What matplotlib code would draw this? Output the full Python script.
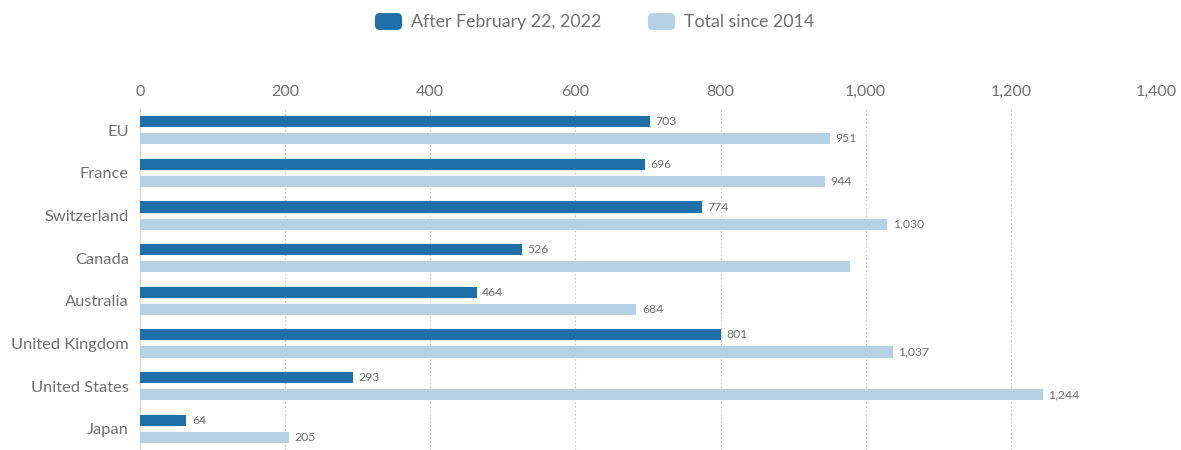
import matplotlib
matplotlib.use("Agg")
import matplotlib.pyplot as plt
import numpy as np
from matplotlib.ticker import FuncFormatter
from matplotlib.lines import Line2D
from matplotlib.patches import FancyBboxPatch
from matplotlib.path import Path

countries = ["EU", "France", "Switzerland", "Canada", "Australia",
             "United Kingdom", "United States", "Japan"]
after_feb_2022 = [703, 696, 774, 526, 464, 801, 293, 64]
total_since_2014 = [951, 944, 1030, 978, 684, 1037, 1244, 205]
# Canada's total bar carries no value label
total_labelled = [True, True, True, False, True, True, True, True]

dark = "#1f6fa8"
light = "#b4d2e4"
text_col = "#707070"

plt.rcParams["font.family"] = ["Lato", "DejaVu Sans"]

fig = plt.figure(figsize=(11.81, 4.5), dpi=100)
ax = fig.add_axes([140 / 1181, 0.0, (1156 - 140) / 1181, 1 - 109 / 450])

y = np.arange(len(countries))
off = 0.2
h = 0.26
ax.barh(y - off, after_feb_2022, height=h, color=dark, zorder=3)
ax.barh(y + off, total_since_2014, height=h, color=light, zorder=3)

for yi, v in zip(y, after_feb_2022):
    ax.annotate(f"{v:,}", (v, yi - off), xytext=(4, 0), textcoords="offset points",
                va="center", ha="left", fontsize=8.8, color=text_col)
for yi, v, lab in zip(y, total_since_2014, total_labelled):
    if lab:
        ax.annotate(f"{v:,}", (v, yi + off), xytext=(4, 0), textcoords="offset points",
                    va="center", ha="left", fontsize=8.8, color=text_col)

ax.set_xlim(0, 1400)
ax.set_ylim(len(countries) - 0.5, -0.5)
ax.set_xticks(np.arange(0, 1401, 200))
ax.xaxis.set_major_formatter(FuncFormatter(lambda v, p: f"{int(v):,}"))
ax.xaxis.tick_top()
ax.tick_params(axis="x", length=0, pad=7, labelsize=11.5, labelcolor=text_col)
ax.set_yticks(y)
ax.set_yticklabels(countries)
ax.tick_params(axis="y", length=0, pad=8, labelsize=11.8, labelcolor=text_col)

ax.grid(axis="x", color="#c8c8c8", linestyle=(0, (1.5, 2)), linewidth=0.8, zorder=0)
ax.grid(axis="y", visible=False)
for s in ["top", "right", "bottom"]:
    ax.spines[s].set_visible(False)
ax.spines["left"].set_color("#d9d4cc")
ax.spines["left"].set_linewidth(0.8)

# rounded-rectangle legend swatches
_box = FancyBboxPatch((-0.5, -0.3), 1, 0.6, boxstyle="round,pad=0,rounding_size=0.16")
rounded_rect = Path(_box.get_path().vertices, _box.get_path().codes)

handles = [
    Line2D([], [], marker=rounded_rect, linestyle="none", markersize=18.5,
           markerfacecolor=dark, markeredgecolor=dark, label="After February 22, 2022"),
    Line2D([], [], marker=rounded_rect, linestyle="none", markersize=18.5,
           markerfacecolor=light, markeredgecolor=light, label="Total since 2014"),
]
fig.legend(handles=handles, loc="center", bbox_to_anchor=(594.5 / 1181, 1 - 22 / 450),
           ncol=2, frameon=False, fontsize=12.8, labelcolor=text_col,
           handlelength=1.5, handletextpad=0.55, columnspacing=2.6)

fig.savefig("out.png", dpi=100)
